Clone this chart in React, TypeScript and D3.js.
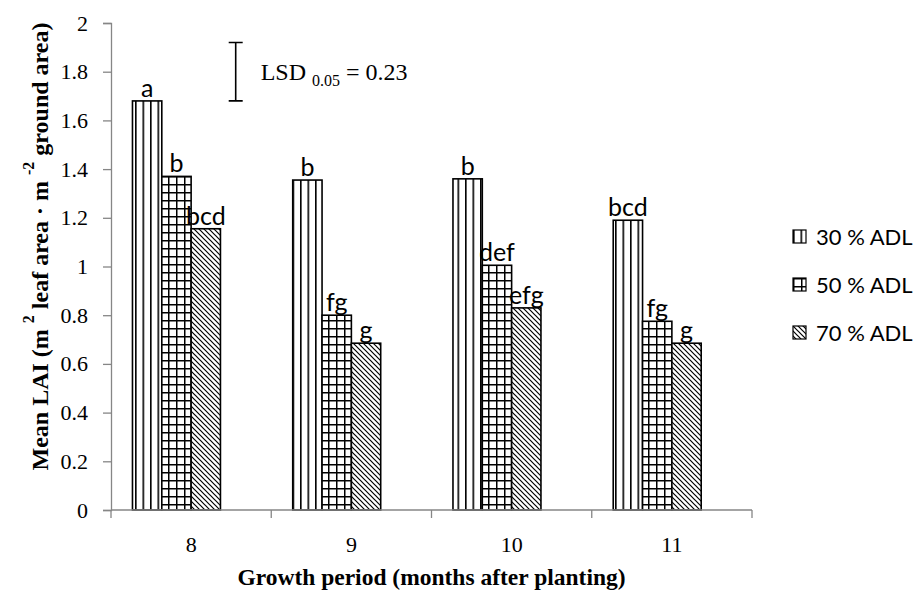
import { useEffect, useRef } from "react"
import * as d3 from "d3"

// growth period (months after planting)
const months = ["8", "9", "10", "11"]
const seriesNames = ["30 % ADL", "50 % ADL", "70 % ADL"]

// mean LAI per shading level
const adl30 = [1.68, 1.355, 1.36, 1.19]
const adl50 = [1.37, 0.8, 1.005, 0.775]
const adl70 = [1.155, 0.685, 0.83, 0.685]

// Duncan letters above the bars
const letters30 = ["a", "b", "b", "bcd"]
const letters50 = ["b", "fg", "def", "fg"]
const letters70 = ["bcd", "g", "efg", "g"]

const yTicks = [0, 0.2, 0.4, 0.6, 0.8, 1, 1.2, 1.4, 1.6, 1.8, 2]
const lsdValue = 0.23
const lsdCenter = 1.8

const W = 919
const H = 595
const margin = { top: 23, right: 167, bottom: 85, left: 111 }

const serif = "'Liberation Serif', 'Times New Roman', serif"
const sans = "Lato, 'Open Sans', sans-serif"

export default function App() {
  const svgRef = useRef<SVGSVGElement>(null)

  useEffect(() => {
    if (!svgRef.current) return
    const svg = d3.select(svgRef.current)
    svg.selectAll("*").remove()

    const values = [adl30, adl50, adl70]
    const letters = [letters30, letters50, letters70]

    const x = d3
      .scaleBand()
      .domain(months)
      .range([margin.left, W - margin.right])
      .paddingInner(0.268)
      .paddingOuter(0.134)

    // Excel left room for a fourth (empty) series, so the group sits left of centre
    const xs = d3.scaleBand().domain(["0", "1", "2", "3"]).range([0, x.bandwidth()])

    const y = d3
      .scaleLinear()
      .domain([0, 2])
      .range([H - margin.bottom, margin.top])

    // patterns
    const defs = svg.append("defs")
    const pVert = defs
      .append("pattern")
      .attr("id", "p30")
      .attr("patternUnits", "userSpaceOnUse")
      .attr("width", 7.5)
      .attr("height", 10)
    pVert.append("rect").attr("width", 7.5).attr("height", 10).attr("fill", "#fff")
    pVert.append("line").attr("x1", 0.8).attr("x2", 0.8).attr("y1", 0).attr("y2", 10)
      .attr("stroke", "#000").attr("stroke-width", 1.6)

    const pGrid = defs
      .append("pattern")
      .attr("id", "p50")
      .attr("patternUnits", "userSpaceOnUse")
      .attr("width", 8)
      .attr("height", 8)
    pGrid.append("rect").attr("width", 8).attr("height", 8).attr("fill", "#fff")
    pGrid.append("path").attr("d", "M0.75,0V8M0,0.75H8")
      .attr("stroke", "#000").attr("stroke-width", 1.5)

    const pDiag = defs
      .append("pattern")
      .attr("id", "p70")
      .attr("patternUnits", "userSpaceOnUse")
      .attr("width", 5)
      .attr("height", 5)
    pDiag.append("rect").attr("width", 5).attr("height", 5).attr("fill", "#fff")
    pDiag.append("path").attr("d", "M-1,-1L6,6M-1,4L1,6M4,-1L6,1")
      .attr("stroke", "#000").attr("stroke-width", 1.2)

    const fills = ["url(#p30)", "url(#p50)", "url(#p70)"]

    // bars
    values.forEach((vals, si) => {
      const g = svg.append("g")
      g.selectAll("rect")
        .data(vals)
        .enter()
        .append("rect")
        .attr("x", (_, i) => (x(months[i]) as number) + (xs(String(si)) as number))
        .attr("y", (d) => y(d))
        .attr("width", xs.bandwidth())
        .attr("height", (d) => y(0) - y(d))
        .attr("fill", fills[si])
        .attr("stroke", "#000")
        .attr("stroke-width", 1.6)

      g.selectAll("text")
        .data(vals)
        .enter()
        .append("text")
        .attr("x", (_, i) => (x(months[i]) as number) + (xs(String(si)) as number) + xs.bandwidth() / 2)
        .attr("y", (d) => y(d) - 4)
        .attr("text-anchor", "middle")
        .attr("font-family", sans)
        .attr("font-size", 25)
        .text((_, i) => letters[si][i])
    })

    // y axis
    svg
      .append("g")
      .attr("transform", `translate(${margin.left},0)`)
      .call(
        d3
          .axisLeft(y)
          .tickValues(yTicks)
          .tickSize(8)
          .tickPadding(15)
          .tickFormat((d) => String(+(+d).toFixed(1))),
      )
      .call((g) => g.selectAll("line, path").attr("stroke", "#868686").attr("stroke-width", 1.3))
      .call((g) =>
        g.selectAll("text").attr("font-family", serif).attr("font-size", 22).attr("fill", "#000"),
      )

    // x axis with boundary ticks
    const x0 = margin.left
    const x1 = W - margin.right
    const xg = svg.append("g")
    xg.append("line")
      .attr("x1", x0).attr("x2", x1)
      .attr("y1", y(0)).attr("y2", y(0))
      .attr("stroke", "#868686").attr("stroke-width", 1.3)
    const bounds = months.map((m) => (x(m) as number) - (x.step() * x.paddingInner()) / 2).concat([x1])
    xg.selectAll("line.tick")
      .data(bounds)
      .enter()
      .append("line")
      .attr("class", "tick")
      .attr("x1", (d) => d).attr("x2", (d) => d)
      .attr("y1", y(0)).attr("y2", y(0) + 8)
      .attr("stroke", "#868686").attr("stroke-width", 1.3)
    xg.selectAll("text")
      .data(months)
      .enter()
      .append("text")
      .attr("x", (d) => (x(d) as number) + x.bandwidth() / 2)
      .attr("y", y(0) + 42)
      .attr("text-anchor", "middle")
      .attr("font-family", serif)
      .attr("font-size", 22)
      .text((d) => d)

    // axis titles
    svg
      .append("text")
      .attr("x", (x0 + x1) / 2)
      .attr("y", 585)
      .attr("text-anchor", "middle")
      .attr("font-family", serif)
      .attr("font-weight", "bold")
      .attr("font-size", 23.5)
      .text("Growth period (months after planting)")

    const yt = svg
      .append("text")
      .attr("transform", `translate(48,${(margin.top + y(0)) / 2 - 20}) rotate(-90)`)
      .attr("text-anchor", "middle")
      .attr("font-family", serif)
      .attr("font-weight", "bold")
      .attr("font-size", 24)
    yt.append("tspan").text("Mean LAI (m ")
    yt.append("tspan").attr("dy", -14).attr("font-size", 16).text("2")
    yt.append("tspan").attr("dy", 14).text(" leaf area · m ")
    yt.append("tspan").attr("dy", -14).attr("font-size", 16).text("-2")
    yt.append("tspan").attr("dy", 14).text("  ground area)")

    // LSD bar
    const lsdX = (x("8") as number) + x.bandwidth() * 0.88
    const ly1 = y(lsdCenter - lsdValue / 2 - 0.005)
    const ly2 = y(lsdCenter + lsdValue / 2 + 0.005)
    svg
      .append("path")
      .attr("d", `M${lsdX - 7},${ly2}H${lsdX + 7}M${lsdX},${ly2}V${ly1}M${lsdX - 7},${ly1}H${lsdX + 7}`)
      .attr("stroke", "#000")
      .attr("stroke-width", 1.6)
      .attr("fill", "none")
    const lt = svg
      .append("text")
      .attr("x", lsdX + 25)
      .attr("y", y(lsdCenter) + 8)
      .attr("font-family", serif)
      .attr("font-size", 24)
    lt.append("tspan").text("LSD ")
    lt.append("tspan").attr("dy", 6).attr("font-size", 16).text("0.05")
    lt.append("tspan").attr("dy", -6).text(" = " + lsdValue.toFixed(2))

    // legend
    const legend = svg.append("g").attr("transform", "translate(793,230)")
    seriesNames.forEach((name, i) => {
      const g = legend.append("g").attr("transform", `translate(0,${i * 48})`)
      g.append("rect")
        .attr("width", 13)
        .attr("height", 13)
        .attr("fill", fills[i])
        .attr("stroke", "#000")
        .attr("stroke-width", 1.2)
      g.append("text")
        .attr("x", 23)
        .attr("y", 14.5)
        .attr("font-family", sans)
        .attr("font-size", 22)
        .text(name)
    })
  }, [])

  return (
    <div style={{ position: "absolute", left: 0, top: 0 }}>
      <svg ref={svgRef} width={W} height={H} style={{ display: "block", background: "#fff" }} />
    </div>
  )
}
